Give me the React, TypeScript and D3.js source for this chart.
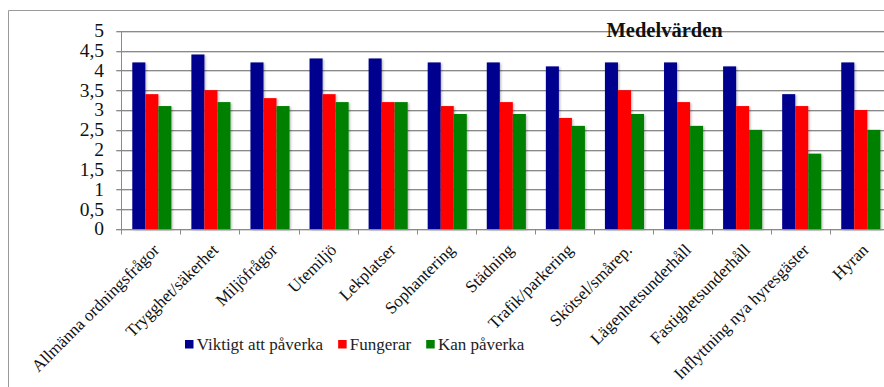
import React, { useEffect, useRef } from "react";
import * as d3 from "d3";

// Survey categories (x axis)
const categories: string[] = [
  "Allmänna ordningsfrågor",
  "Trygghet/säkerhet",
  "Miljöfrågor",
  "Utemiljö",
  "Lekplatser",
  "Sophantering",
  "Städning",
  "Trafik/parkering",
  "Skötsel/smårep.",
  "Lägenhetsunderhåll",
  "Fastighetsunderhåll",
  "Inflyttning nya hyresgäster",
  "Hyran",
];

// Mean values per series
const viktigt: number[] = [4.2, 4.4, 4.2, 4.3, 4.3, 4.2, 4.2, 4.1, 4.2, 4.2, 4.1, 3.4, 4.2];
const fungerar: number[] = [3.4, 3.5, 3.3, 3.4, 3.2, 3.1, 3.2, 2.8, 3.5, 3.2, 3.1, 3.1, 3.0];
const kanPaverka: number[] = [3.1, 3.2, 3.1, 3.2, 3.2, 2.9, 2.9, 2.6, 2.9, 2.6, 2.5, 1.9, 2.5];

const seriesNames: string[] = ["Viktigt att påverka", "Fungerar", "Kan påverka"];
const seriesColors: string[] = ["#00008e", "#ff0000", "#008000"];

const yTicks: number[] = [0, 0.5, 1, 1.5, 2, 2.5, 3, 3.5, 4, 4.5, 5];
const title = "Medelvärden";

const W = 884;
const H = 387;

export default function App() {
  const ref = useRef<SVGSVGElement | null>(null);

  useEffect(() => {
    const svg = d3.select(ref.current);
    svg.selectAll("*").remove();

    const serif = "Liberation Serif, Times New Roman, serif";
    const left = 122.3;
    const right = left + 59.08 * categories.length;
    const top = 30.7;
    const bottom = 229;

    const defs = svg.append("defs");
    const f = defs
      .append("filter")
      .attr("id", "barShadow")
      .attr("x", "-20%")
      .attr("y", "-5%")
      .attr("width", "150%")
      .attr("height", "115%");
    f.append("feDropShadow")
      .attr("dx", 1.2)
      .attr("dy", 1)
      .attr("stdDeviation", 0.9)
      .attr("flood-color", "#000")
      .attr("flood-opacity", 0.28);

    svg.append("rect").attr("width", W).attr("height", H).attr("fill", "#fff");

    // outer chart frame
    svg
      .append("path")
      .attr("d", `M8.5,${H} V10.5 H${W}`)
      .attr("fill", "none")
      .attr("stroke", "#9a9a9a")
      .attr("stroke-width", 1);

    const x = d3
      .scaleBand<string>()
      .domain(categories)
      .range([left, right])
      .paddingInner(0.3385)
      .paddingOuter(0.16925);

    const xs = d3
      .scaleBand<string>()
      .domain(seriesNames)
      .range([0, x.bandwidth()])
      .padding(0);

    const y = d3.scaleLinear().domain([0, 5]).range([bottom, top]);

    // horizontal gridlines with a light shadow underneath
    const grid = svg.append("g");
    yTicks.forEach((t) => {
      const yy = Math.round(y(t)) + 0.5;
      grid
        .append("line")
        .attr("x1", left - 6)
        .attr("x2", right)
        .attr("y1", yy + 1)
        .attr("y2", yy + 1)
        .attr("stroke", "#d6d6d6")
        .attr("stroke-width", 1);
      grid
        .append("line")
        .attr("x1", left - 6)
        .attr("x2", right)
        .attr("y1", yy)
        .attr("y2", yy)
        .attr("stroke", "#8a8a8a")
        .attr("stroke-width", 1);
    });

    // bars
    const data = [viktigt, fungerar, kanPaverka];
    const bars = svg.append("g").attr("filter", "url(#barShadow)");
    categories.forEach((c, i) => {
      data.forEach((vals, s) => {
        const x0 = (x(c) as number) + (xs(seriesNames[s]) as number);
        bars
          .append("rect")
          .attr("x", x0)
          .attr("y", y(vals[i]))
          .attr("width", xs.bandwidth())
          .attr("height", y(0) - y(vals[i]))
          .attr("fill", seriesColors[s]);
      });
    });

    // axes lines
    const axisY = Math.round(y(0)) + 0.5;
    svg
      .append("line")
      .attr("x1", Math.round(left) - 0.5)
      .attr("x2", Math.round(left) - 0.5)
      .attr("y1", Math.round(y(5)))
      .attr("y2", axisY + 5)
      .attr("stroke", "#8a8a8a");
    svg
      .append("line")
      .attr("x1", left - 6)
      .attr("x2", right)
      .attr("y1", axisY)
      .attr("y2", axisY)
      .attr("stroke", "#8a8a8a");
    categories.forEach((c, i) => {
      if (i === 0) return;
      const xx = Math.round(x.step() * i + left) - 0.5;
      svg
        .append("line")
        .attr("x1", xx)
        .attr("x2", xx)
        .attr("y1", axisY)
        .attr("y2", axisY + 5)
        .attr("stroke", "#8a8a8a");
    });

    // y tick labels
    svg
      .append("g")
      .selectAll("text")
      .data(yTicks)
      .join("text")
      .attr("x", 104)
      .attr("y", (d) => y(d))
      .attr("dy", "0.33em")
      .attr("text-anchor", "end")
      .attr("font-family", serif)
      .attr("font-size", 19.5)
      .attr("fill", "#111")
      .text((d) => String(d).replace(".", ","));

    // rotated category labels
    svg
      .append("g")
      .selectAll("text")
      .data(categories)
      .join("text")
      .attr("transform", (d) => {
        const cx = (x(d) as number) + x.bandwidth() / 2 + 8.5;
        return `translate(${cx},251) rotate(-45)`;
      })
      .attr("text-anchor", "end")
      .attr("font-family", serif)
      .attr("font-size", 17)
      .attr("fill", "#111")
      .text((d) => d);

    // title
    svg
      .append("text")
      .attr("x", 606.5)
      .attr("y", 36.7)
      .attr("font-family", serif)
      .attr("font-weight", "bold")
      .attr("font-size", 20.5)
      .attr("fill", "#111")
      .text(title);

    // legend
    const lg = svg.append("g");
    let lx = 185;
    seriesNames.forEach((name, s) => {
      lg.append("rect")
        .attr("x", lx)
        .attr("y", 340)
        .attr("width", 8.5)
        .attr("height", 8.5)
        .attr("fill", seriesColors[s]);
      const t = lg
        .append("text")
        .attr("x", lx + 11.7)
        .attr("y", 349.5)
        .attr("font-family", serif)
        .attr("font-size", 17)
        .attr("fill", "#222")
        .text(name);
      const w = (t.node() as SVGTextElement).getComputedTextLength();
      lx = lx + 11.7 + w + 15;
    });
  }, []);

  return (
    <svg
      ref={ref}
      width={W}
      height={H}
      style={{ position: "absolute", left: 0, top: 0, display: "block" }}
    />
  );
}
